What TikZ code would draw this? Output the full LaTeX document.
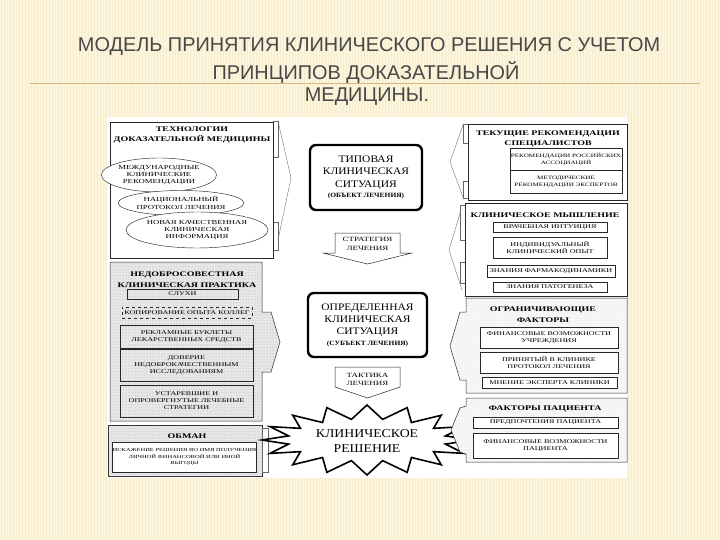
\documentclass[tikz,border=0pt]{standalone}
\usepackage{fontspec}
\setmainfont{Liberation Serif}
\newfontfamily\titlefont{Liberation Sans}
\newfontfamily\dfont[FakeStretch=1.4]{Liberation Serif}
\newfontfamily\cfont[FakeStretch=1.15]{Liberation Serif}
\usetikzlibrary{shapes.geometric,patterns}
\definecolor{bgc}{RGB}{252,244,220}
\definecolor{stripec}{RGB}{247,236,204}
\definecolor{tanline}{RGB}{214,182,120}
\definecolor{titlec}{RGB}{72,72,72}
\definecolor{linec}{RGB}{40,40,40}
\begin{document}
\begin{tikzpicture}[x=1pt,y=-1pt,
  panel/.style={draw=linec, line width=0.5pt, fill=white},
  stipple/.style={draw=linec, line width=0.5pt, fill=black!9, postaction={pattern=dots, pattern color=black!35}},
  lstipple/.style={draw=linec, line width=0.5pt, fill=black!3, postaction={pattern=dots, pattern color=black!14}},
  ibox/.style={draw=linec, line width=0.45pt, align=center, inner sep=0pt,
     font=\dfont\fontsize{5.8}{6.9}\selectfont},
  wbox/.style={ibox, fill=white},
  sbox/.style={wbox, font=\dfont\fontsize{5.1}{6.9}\selectfont},
  ell/.style={ellipse, draw=linec, line width=0.45pt, fill=white, align=center, inner sep=0pt,
     font=\dfont\fontsize{6.2}{7.2}\selectfont},
  ptitle/.style={align=center, inner sep=0pt, font=\dfont\bfseries\fontsize{7.1}{10.8}\selectfont},
  cbox/.style={draw=black, line width=2.4pt, rounded corners=6pt, fill=white, align=center, inner sep=0pt,
     font=\cfont\fontsize{10}{12.3}\selectfont},
  barrow/.style={draw=linec, line width=0.5pt, fill=white},
  atext/.style={align=center, inner sep=0pt, font=\dfont\fontsize{6.4}{8.5}\selectfont},
  chev/.style={draw=black!55, line width=0.4pt},
  bar/.style={draw=black!60, line width=0.4pt, fill=white},
  ttl/.style={inner sep=0pt, text=titlec, font=\titlefont\fontsize{19.9}{22}\selectfont}
]
% background
\fill[bgc] (0,0) rectangle (720,540);
\useasboundingbox (0,0) rectangle (720,540);
\foreach \i in {1,4,...,720} \draw[stripec, line width=0.35pt] (\i,0) -- (\i,540);
% title
\node[ttl] (t1) at (369,47) {МОДЕЛЬ ПРИНЯТИЯ КЛИНИЧЕСКОГО РЕШЕНИЯ С УЧЕТОМ};
\node[ttl] (t2) at (366,72) {ПРИНЦИПОВ ДОКАЗАТЕЛЬНОЙ};
\node[ttl] (t3) at (367,97) {МЕДИЦИНЫ.};
\draw[tanline, line width=0.8pt] (30,83) -- (700,83);
% white picture area
\fill[white] (107,117) rectangle (627,478);

% ---------- left top panel ----------
\draw[chev] (278,121) -- (291,178) -- (278,240);
\draw[bar] (273,121) rectangle (278,157);
\draw[bar] (273,222) rectangle (278,250);
\node[panel, minimum width=163, minimum height=136, inner sep=0pt] (lt) at (191.5,190) {};
\node[ptitle] (ltt) at (192,135) {ТЕХНОЛОГИИ\\ДОКАЗАТЕЛЬНОЙ МЕДИЦИНЫ};
\node[ell, minimum width=98, minimum height=34] (e1) at (159,175) {МЕЖДУНАРОДНЫЕ\\КЛИНИЧЕСКИЕ\\РЕКОМЕНДАЦИИ};
\node[ell, minimum width=125, minimum height=25] (e2) at (181,203) {НАЦИОНАЛЬНЫЙ\\ПРОТОКОЛ ЛЕЧЕНИЯ};
\node[ell, minimum width=137, minimum height=36] (e3) at (197,230) {НОВАЯ КАЧЕСТВЕННАЯ\\КЛИНИЧЕСКАЯ\\ИНФОРМАЦИЯ};

% ---------- left middle panel ----------
\draw[stipple] (110,262) -- (262,262) -- (262,312) -- (271,312) -- (280,342) -- (271,372) -- (262,372) -- (262,421) -- (110,421) -- cycle;
\node[ptitle] (lmt) at (187,279.5) {НЕДОБРОСОВЕСТНАЯ\\КЛИНИЧЕСКАЯ ПРАКТИКА};
\node[ibox, minimum width=111, minimum height=10] (m1) at (182.5,294) {СЛУХИ};
\node[ibox, dashed, minimum width=130, minimum height=11] (m2) at (187,312.5) {КОПИРОВАНИЕ ОПЫТА КОЛЛЕГ};
\node[ibox, minimum width=133, minimum height=23] (m3) at (186.5,336.5) {РЕКЛАМНЫЕ БУКЛЕТЫ\\ЛЕКАРСТВЕННЫХ СРЕДСТВ};
\node[ibox, minimum width=133, minimum height=32] (m4) at (186.5,365) {ДОВЕРИЕ\\НЕДОБРОКАЧЕСТВЕННЫМ\\ИССЛЕДОВАНИЯМ};
\node[ibox, minimum width=133, minimum height=32] (m5) at (186.5,401) {УСТАРЕВШИЕ И\\ОПРОВЕРГНУТЫЕ ЛЕЧЕБНЫЕ\\СТРАТЕГИИ};

% ---------- left bottom panel ----------
\draw[stipple] (108,425) rectangle (262,476);
\node[ptitle] (lbt) at (187,436) {ОБМАН};
\node[wbox, minimum width=143, minimum height=30, font=\dfont\fontsize{4.65}{6.8}\selectfont] (b1) at (184.5,457)
  {ИСКАЖЕНИЕ РЕШЕНИЯ ВО ИМЯ ПОЛУЧЕНИЯ\\ЛИЧНОЙ ФИНАНСОВОЙ ИЛИ ИНОЙ\\ВЫГОДЫ};
\draw[bar] (262,428) rectangle (268,472);

% ---------- centre ----------
\node[cbox, minimum width=112, minimum height=65] (c1) at (366,177.5)
  {ТИПОВАЯ\\КЛИНИЧЕСКАЯ\\СИТУАЦИЯ\\[-2pt]{\bfseries\fontsize{6.5}{8}\selectfont (ОБЪЕКТ ЛЕЧЕНИЯ)}};
\draw[barrow] (335,233) -- (400,233) -- (400,253) -- (412,253) -- (367.5,264) -- (323,253) -- (335,253) -- cycle;
\node[atext] (a1) at (367.5,244) {СТРАТЕГИЯ\\ЛЕЧЕНИЯ};
\node[cbox, minimum width=119, minimum height=64] (c2) at (367.5,325)
  {ОПРЕДЕЛЕННАЯ\\КЛИНИЧЕСКАЯ\\СИТУАЦИЯ\\[-2pt]{\bfseries\fontsize{6.5}{8}\selectfont (СУБЪЕКТ ЛЕЧЕНИЯ)}};
\draw[barrow] (335,367) -- (400,367) -- (400,387) -- (367.5,398) -- (335,387) -- cycle;
\node[atext] (a2) at (367.5,379.5) {ТАКТИКА\\ЛЕЧЕНИЯ};
\draw[draw=black, line width=1.6pt, fill=white, line join=miter]
  plot[samples at={0,...,31}, variable=\k]
  ({367+(80+25*(1-mod(\k,2)))*cos(\k*11.25)}, {440+(21+14*(1-mod(\k,2)))*sin(\k*11.25)}) -- cycle;
\node[align=center, inner sep=0pt, font=\cfont\fontsize{12}{15}\selectfont] (dec) at (367,441) {КЛИНИЧЕСКОЕ\\РЕШЕНИЕ};

% ---------- right panel 1 ----------
\draw[chev] (463,125) -- (450,162) -- (463,197);
\draw[bar] (463,124) rectangle (468,143);
\draw[bar] (463,181) rectangle (468,198);
\node[panel, minimum width=159, minimum height=76, inner sep=0pt] (r1) at (547.5,162) {};
\node[ptitle] (r1t) at (548,139) {ТЕКУЩИЕ РЕКОМЕНДАЦИИ\\СПЕЦИАЛИСТОВ};
\node[sbox, minimum width=112, minimum height=22] (r1a) at (566,159) {РЕКОМЕНДАЦИИ РОССИЙСКИХ\\АССОЦИАЦИЙ};
\node[sbox, minimum width=112, minimum height=23] (r1b) at (566,181.5) {МЕТОДИЧЕСКИЕ\\РЕКОМЕНДАЦИИ ЭКСПЕРТОВ};

% ---------- right panel 2 ----------
\draw[chev] (462,207) -- (449,250) -- (462,290);
\draw[bar] (460,205) rectangle (465,240);
\draw[bar] (460,262) rectangle (465,283);
\node[panel, minimum width=162, minimum height=93, inner sep=0pt] (r2) at (546,249.5) {};
\node[ptitle] (r2t) at (545,215) {КЛИНИЧЕСКОЕ МЫШЛЕНИЕ};
\node[wbox, minimum width=114, minimum height=10] (r2a) at (550,227) {ВРАЧЕБНАЯ ИНТУИЦИЯ};
\node[wbox, minimum width=114, minimum height=21] (r2b) at (550,247.5) {ИНДИВИДУАЛЬНЫЙ\\КЛИНИЧЕСКИЙ ОПЫТ};
\node[wbox, minimum width=128, minimum height=12] (r2c) at (551,271) {ЗНАНИЯ ФАРМАКОДИНАМИКИ};
\node[wbox, minimum width=114, minimum height=10] (r2d) at (550,287) {ЗНАНИЯ ПАТОГЕНЕЗА};

% ---------- right panel 3 ----------
\draw[lstipple] (466,298) -- (627,298) -- (627,393) -- (466,393) -- (466,380) -- (460,380) -- (450,346) -- (460,312) -- (466,312) -- cycle;
\node[ptitle] (r3t) at (543,315) {ОГРАНИЧИВАЮЩИЕ\\ФАКТОРЫ};
\node[wbox, minimum width=138, minimum height=21] (r3a) at (549,337.5) {ФИНАНСОВЫЕ ВОЗМОЖНОСТИ\\УЧРЕЖДЕНИЯ};
\node[wbox, minimum width=138, minimum height=21] (r3b) at (549,362.5) {ПРИНЯТЫЙ В КЛИНИКЕ\\ПРОТОКОЛ ЛЕЧЕНИЯ};
\node[wbox, minimum width=135, minimum height=11] (r3c) at (549.5,382.5) {МНЕНИЕ ЭКСПЕРТА КЛИНИКИ};

% ---------- right panel 4 ----------
\draw[lstipple] (466,398) -- (627,398) -- (627,462) -- (466,462) -- (466,454) -- (460,452) -- (451,430) -- (460,408) -- (466,406) -- cycle;
\node[ptitle] (r4t) at (545,409) {ФАКТОРЫ ПАЦИЕНТА};
\node[wbox, minimum width=145, minimum height=11] (r4a) at (545.5,422.5) {ПРЕДПОЧТЕНИЯ ПАЦИЕНТА};
\node[wbox, minimum width=145, minimum height=25] (r4b) at (545.5,445.5) {ФИНАНСОВЫЕ ВОЗМОЖНОСТИ\\ПАЦИЕНТА};
\end{tikzpicture}
\end{document}
